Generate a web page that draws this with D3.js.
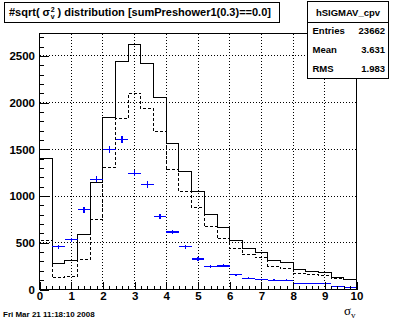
<!DOCTYPE html>
<html>
<head>
<meta charset="utf-8">
<script src="https://cdn.jsdelivr.net/npm/d3@7"></script>
<style>
  html, body { margin: 0; padding: 0; background: #fff; }
  svg { display: block; }
  text { font-family: "Liberation Sans", Arial, Helvetica, sans-serif; font-weight: bold; fill: #000; }
</style>
</head>
<body>
<svg id="chart" width="396" height="322"></svg>
<script>
// Histogram binning: 25 bins of width 0.4 on [0, 10]
const binLow = [0.0, 0.4, 0.8, 1.2, 1.6, 2.0, 2.4, 2.8, 3.2, 3.6, 4.0, 4.4, 4.8,
                5.2, 5.6, 6.0, 6.4, 6.8, 7.2, 7.6, 8.0, 8.4, 8.8, 9.2, 9.6];
const binWidth = 0.4;

// Bin contents
const solidCounts  = [1400, 275, 310, 585, 1141, 1837, 2439, 2617, 2414, 2050, 1558, 1262, 1045,
                      802, 660, 524, 435, 392, 310, 285, 214, 193, 178, 132, 107];
const dashedCounts = [524, 125, 136, 319, 746, 1302, 1826, 2100, 1933, 1690, 1284, 1048, 874,
                      671, 542, 435, 371, 339, 250, 222, 168, 158, 147, 118, 102];
const blueCounts   = [null, 457, 532, 853, 1181, 1496, 1605, 1245, 1124, 785, 614, 460, 328,
                      245, 252, 157, 118, 107, 98, 98, 64, 64, 64, 30, 20];

// Axis ticks and labels
const xMajor = [0, 1, 2, 3, 4, 5, 6, 7, 8, 9, 10];
const xLabels = ["0", "1", "2", "3", "4", "5", "6", "7", "8", "9", "10"];
const yMajor = [0, 500, 1000, 1500, 2000, 2500];
const yLabels = ["0", "500", "1000", "1500", "2000", "2500"];
const xMinorStep = 0.2;
const yMinorStep = 100;
const yMax = 2740;

// Texts
const titleMain = "#sqrt( \u03C3";
const titleRest = " ) distribution [sumPreshower1(0.3)==0.0]";
const statsName = "hSIGMAV_cpv";
const statsRows = [["Entries", "23662"], ["Mean", "3.631"], ["RMS", "1.983"]];
const dateText = "Fri Mar 21 11:18:10 2008";

const svg = d3.select("#chart");
svg.append("rect").attr("width", 396).attr("height", 322).attr("fill", "#fff");

const frame = { left: 39.5, right: 356.5, top: 33.5, bottom: 289.5 };
const x = d3.scaleLinear().domain([0, 10]).range([frame.left, frame.right]);
const y = d3.scaleLinear().domain([0, yMax]).range([frame.bottom, frame.top]);

const plot = svg.append("g").attr("shape-rendering", "crispEdges");

// Grid (dotted)
plot.append("g").selectAll("line").data(xMajor.slice(1, -1)).join("line")
  .attr("x1", d => x(d)).attr("x2", d => x(d))
  .attr("y1", frame.bottom).attr("y2", frame.top)
  .attr("stroke", "#000").attr("stroke-dasharray", "1,2");
plot.append("g").selectAll("line").data(yMajor.slice(1)).join("line")
  .attr("x1", frame.left).attr("x2", frame.right)
  .attr("y1", d => y(d)).attr("y2", d => y(d))
  .attr("stroke", "#000").attr("stroke-dasharray", "1,2");

// Step outline of a histogram
function stepPath(counts) {
  const pts = [[binLow[0], 0]];
  counts.forEach((c, i) => {
    pts.push([binLow[i], c]);
    pts.push([binLow[i] + binWidth, c]);
  });
  pts.push([binLow[binLow.length - 1] + binWidth, 0]);
  return d3.line().x(d => x(d[0])).y(d => y(d[1]))(pts);
}

plot.append("path").attr("d", stepPath(dashedCounts))
  .attr("fill", "none").attr("stroke", "#000").attr("stroke-dasharray", "3,2");
plot.append("path").attr("d", stepPath(solidCounts))
  .attr("fill", "none").attr("stroke", "#000");

// Error-bar crosses
const pts = blueCounts.map((c, i) => ({ lo: binLow[i], c })).filter(d => d.c != null);
const eb = plot.append("g").attr("stroke", "#0000ff").attr("stroke-width", 1.3);
eb.selectAll("line.h").data(pts).join("line").attr("class", "h")
  .attr("x1", d => x(d.lo)).attr("x2", d => x(d.lo + binWidth))
  .attr("y1", d => y(d.c)).attr("y2", d => y(d.c));
eb.selectAll("line.v").data(pts).join("line").attr("class", "v")
  .attr("x1", d => x(d.lo + binWidth / 2)).attr("x2", d => x(d.lo + binWidth / 2))
  .attr("y1", d => y(d.c - Math.sqrt(d.c))).attr("y2", d => y(d.c + Math.sqrt(d.c)));

// Frame
plot.append("rect")
  .attr("x", frame.left).attr("y", frame.top)
  .attr("width", frame.right - frame.left).attr("height", frame.bottom - frame.top)
  .attr("fill", "none").attr("stroke", "#000");

// Axis ticks (inside the frame)
const xMinor = d3.range(0, 10 + 1e-9, xMinorStep).filter(v => Math.abs(v - Math.round(v)) > 1e-6);
const yMinor = d3.range(0, yMax, yMinorStep).filter(v => v % 500 !== 0);

const xAx = plot.append("g").attr("transform", `translate(0,${frame.bottom})`);
xAx.call(d3.axisTop(x).tickValues(xMajor).tickSize(7.7).tickFormat(""));
xAx.append("g").call(d3.axisTop(x).tickValues(xMinor).tickSize(3.9).tickFormat(""));
xAx.selectAll(".domain").remove();

const yAx = plot.append("g").attr("transform", `translate(${frame.left},0)`);
yAx.call(d3.axisRight(y).tickValues(yMajor).tickSize(9.5).tickFormat(""));
yAx.append("g").call(d3.axisRight(y).tickValues(yMinor).tickSize(4.8).tickFormat(""));
yAx.selectAll(".domain").remove();
svg.selectAll(".tick line").attr("stroke", "#000");

// Tick labels
const xLab = svg.append("g").attr("transform", `translate(0,${frame.bottom})`)
  .call(d3.axisBottom(x).tickValues(xMajor).tickSize(0).tickPadding(2)
        .tickFormat((d, i) => xLabels[i]));
xLab.select(".domain").remove();
xLab.selectAll("text").attr("font-size", 11.5).attr("font-family", null).attr("fill", "#000");

const yLab = svg.append("g").attr("transform", `translate(${frame.left - 0.5},0)`)
  .call(d3.axisLeft(y).tickValues(yMajor).tickSize(0).tickPadding(4)
        .tickFormat((d, i) => yLabels[i]));
yLab.select(".domain").remove();
yLab.selectAll("text").attr("font-size", 11.5).attr("font-family", null).attr("fill", "#000");
svg.selectAll(".tick text").style("font-weight", "bold");

// Axis title: sigma_v
const xt = svg.append("text").attr("x", 355.5).attr("y", 314.7).attr("text-anchor", "end")
  .style("font-family", "'Liberation Serif', 'DejaVu Serif', serif").style("font-weight", "normal");
xt.append("tspan").attr("font-size", 13).text("\u03C3");
xt.append("tspan").attr("font-size", 9).attr("dy", 3.6).text("v");

// Title box
svg.append("rect").attr("x", 4.5).attr("y", 2.5).attr("width", 275).attr("height", 20)
  .attr("fill", "#fff").attr("stroke", "#000").attr("shape-rendering", "crispEdges");
const tt = svg.append("text").attr("x", 9).attr("y", 15.5).attr("font-size", 11);
tt.append("tspan").text(titleMain);
tt.append("tspan").attr("font-size", 7).attr("dy", -4).attr("dx", 0.5).text("2");
tt.append("tspan").attr("font-size", 7).attr("dy", 7).attr("dx", -3.9).text("v");
tt.append("tspan").attr("dy", -3).text(titleRest);

// Statistics box
const sb = { x: 307.5, y: 1.5, w: 81, h: 77 };
svg.append("rect").attr("x", sb.x).attr("y", sb.y).attr("width", sb.w).attr("height", sb.h)
  .attr("fill", "#fff").attr("stroke", "#000").attr("shape-rendering", "crispEdges");
svg.append("line").attr("x1", sb.x).attr("x2", sb.x + sb.w).attr("y1", 22.5).attr("y2", 22.5)
  .attr("stroke", "#000").attr("shape-rendering", "crispEdges");
svg.append("text").attr("x", sb.x + sb.w / 2).attr("y", 15.5).attr("text-anchor", "middle")
  .attr("font-size", 9.5).text(statsName);
const rowBase = [33.8, 52.8, 72.0];
statsRows.forEach((r, i) => {
  svg.append("text").attr("x", sb.x + 5).attr("y", rowBase[i]).attr("font-size", 9.5).text(r[0]);
  svg.append("text").attr("x", sb.x + sb.w - 3.5).attr("y", rowBase[i]).attr("text-anchor", "end")
    .attr("font-size", 9.5).text(r[1]);
});

// Date stamp
svg.append("text").attr("x", 3).attr("y", 316.5).attr("font-size", 8).text(dateText);
</script>
</body>
</html>
